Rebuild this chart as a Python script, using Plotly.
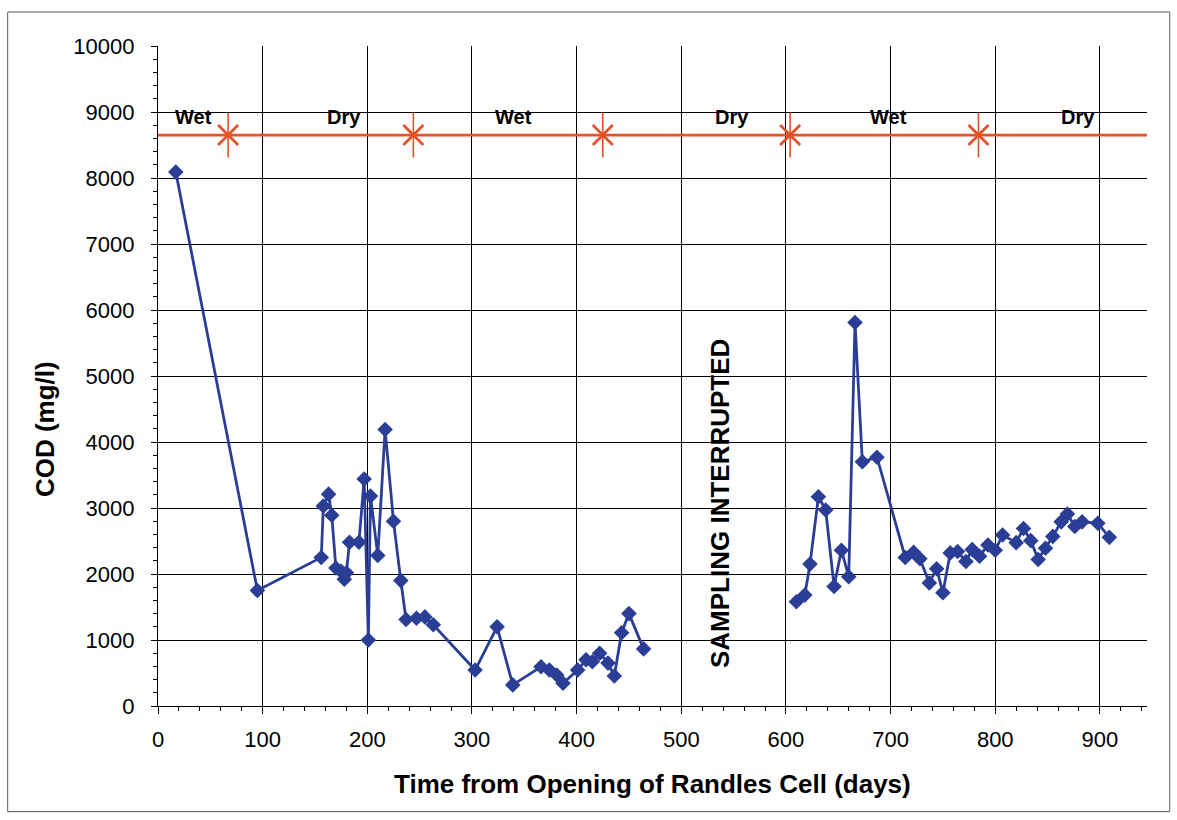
import plotly.graph_objects as go

# ---- data ----
days_a = [17, 95, 156, 158, 163, 166, 170, 175, 178, 180, 183, 192, 197, 201, 203, 210, 217, 225, 232, 237,
          247, 255, 263, 303, 324, 339, 366, 374, 381, 387, 401, 409, 415, 422, 430, 436, 443, 450, 464]
cod_a = [8090, 1750, 2250, 3030, 3210, 2890, 2090, 2040, 1920, 2020, 2480, 2480, 3440, 1000, 3180, 2280, 4190, 2800, 1900, 1310,
         1330, 1350, 1230, 545, 1200, 320, 595, 545, 470, 345, 545, 700, 670, 800, 650, 455, 1110, 1400, 865]

days_b = [610, 618, 623, 631, 638, 646, 653, 660, 666, 673, 687, 714, 722, 728, 737, 744, 750, 757, 764, 772,
          778, 785, 793, 800, 807, 820, 827, 834, 841, 848, 855, 863, 869, 876, 883, 898, 909]
cod_b = [1580, 1680, 2150, 3170, 2970, 1810, 2360, 1960, 5810, 3700, 3770, 2250, 2330, 2230, 1865, 2080, 1717, 2320, 2340, 2190,
         2370, 2270, 2440, 2360, 2590, 2475, 2690, 2505, 2220, 2390, 2570, 2790, 2910, 2720, 2790, 2770, 2555]

season_line_days = [0, 945]
season_level = 8650
season_change_days = [67, 244, 425, 604, 784]
season_labels = ["Wet", "Dry", "Wet", "Dry", "Wet", "Dry"]
season_label_days = [34, 178, 340, 548, 698, 879]
season_label_level = 8930

x_ticks = [0, 100, 200, 300, 400, 500, 600, 700, 800, 900]
y_ticks = [0, 1000, 2000, 3000, 4000, 5000, 6000, 7000, 8000, 9000, 10000]
y_tick_text = [str(v) for v in y_ticks]

BLUE = "rgb(42,62,150)"
RED = "rgb(228,82,40)"
FONT = "Liberation Sans, Arial, sans-serif"

fig = go.Figure()

# season bar line
fig.add_trace(go.Scatter(x=season_line_days, y=[season_level] * len(season_line_days), mode="lines",
                         line=dict(color=RED, width=2.6), showlegend=False, hoverinfo="skip"))
fig.add_trace(go.Scatter(x=season_change_days, y=[season_level] * len(season_change_days), mode="markers",
                         marker=dict(symbol="x-thin", size=20, line=dict(color=RED, width=2.8), color=RED),
                         error_y=dict(type="constant", value=340, color=RED, thickness=1.6, width=0),
                         showlegend=False, hoverinfo="skip"))

for xs, ys in [(days_a, cod_a), (days_b, cod_b)]:
    fig.add_trace(go.Scatter(x=xs, y=ys, mode="lines+markers",
                             line=dict(color=BLUE, width=2.8),
                             marker=dict(symbol="diamond", size=12, color=BLUE),
                             showlegend=False))

for lab, d in zip(season_labels, season_label_days):
    fig.add_annotation(x=d, y=season_label_level, text="<b>%s</b>" % lab, showarrow=False,
                       font=dict(family=FONT, size=20, color="black"))

fig.add_annotation(x=537, y=3060, text="<b>SAMPLING INTERRUPTED</b>", textangle=-90, showarrow=False,
                   font=dict(family=FONT, size=26, color="black"))

# axis titles
fig.add_annotation(xref="paper", yref="paper", x=0.50, y=-0.118, yanchor="middle",
                   text="<b>Time from Opening of Randles Cell (days)</b>", showarrow=False,
                   font=dict(family=FONT, size=26, color="black"))
fig.add_annotation(xref="paper", yref="paper", x=-0.114, y=0.42, xanchor="center", yanchor="middle",
                   text="<b>COD (mg/l)</b>", textangle=-90, showarrow=False,
                   font=dict(family=FONT, size=26, color="black"))

# outer frame
fig.add_shape(type="rect", xref="paper", yref="paper", x0=-0.152, x1=1.023, y0=-0.160, y1=1.0515,
              line=dict(color="rgb(90,90,90)", width=1))

fig.update_xaxes(range=[0, 945], tickvals=x_ticks, showgrid=True, gridcolor="black", gridwidth=1,
                 showline=True, linecolor="black", linewidth=1.2, zeroline=False,
                 ticks="outside", ticklen=7, tickcolor="black", ticklabelstandoff=6,
                 minor=dict(dtick=20, ticks="outside", ticklen=4, tickcolor="black", showgrid=False),
                 tickfont=dict(family=FONT, size=22, color="black"))
fig.update_yaxes(range=[0, 10000], tickvals=y_ticks, ticktext=y_tick_text, showgrid=True,
                 gridcolor="black", gridwidth=1,
                 showline=True, linecolor="black", linewidth=1.2, zeroline=False,
                 ticks="outside", ticklen=6, tickcolor="black", ticklabelstandoff=12,
                 minor=dict(dtick=200, ticks="outside", ticklen=4, tickcolor="black", showgrid=False),
                 tickfont=dict(family=FONT, size=22, color="black"))

fig.update_layout(width=1177, height=820, margin=dict(l=158, r=30, t=46, b=114),
                  plot_bgcolor="white", paper_bgcolor="white", font=dict(family=FONT))

fig.write_html("out.html")
